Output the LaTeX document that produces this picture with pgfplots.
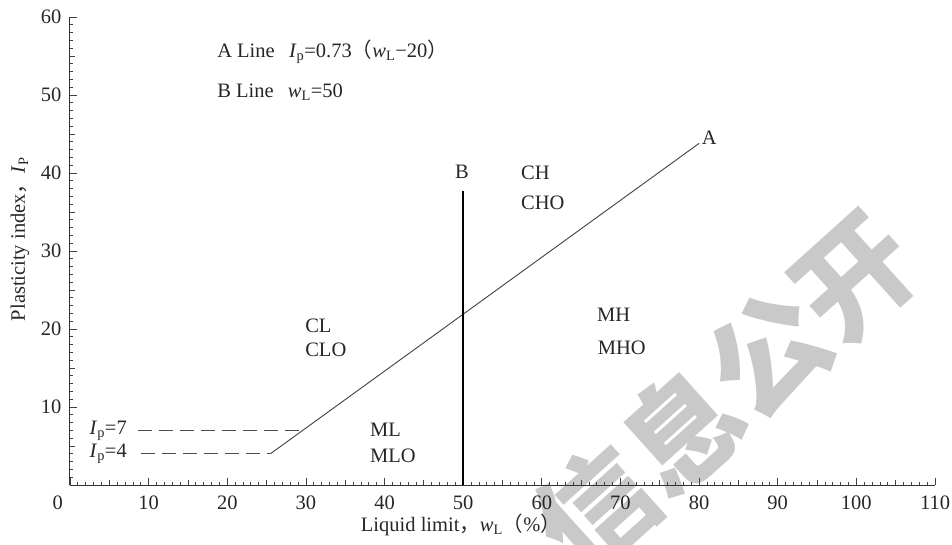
\documentclass[border=0pt]{standalone}
\usepackage{fontspec}
\setmainfont{Liberation Serif}
\newfontfamily\cjk{Noto Sans CJK SC}
\usepackage{pgfplots}
\pgfplotsset{compat=1.18}
\newcommand{\Ip}{\textit{I}\textsubscript{p}}
\newcommand{\wL}{\textit{w}\textsubscript{L}}
\begin{document}
\fontsize{20.5}{24}\selectfont
\begin{tikzpicture}
\clip (-70pt,-59pt) rectangle (882pt,485pt);
\node[rotate=42, text=black!21, font=\cjk\bfseries\fontsize{116}{116}\selectfont] at (655pt,93pt) {信息公开};
\begin{axis}[
  at={(0pt,0pt)}, anchor=south west,
  scale only axis, width=865pt, height=468pt,
  xmin=0, xmax=110, ymin=0, ymax=60,
  axis lines=left,
  axis line style={-, black!80, line width=1pt},
  tick align=inside,
  xtick={0,10,20,30,40,50,60,70,80,90,100,110},
  ytick={0,10,20,30,40,50,60},
  xticklabels={\llap{0\hspace{7pt}},10,20,30,40,50,60,70,80,90,100,110},
  yticklabels={,10,20,30,40,50,60},
  minor x tick num=9, minor y tick num=9,
  major tick length=7pt, minor tick length=3pt,
  tick style={black!75, line width=0.8pt},
  extra x ticks={5,15,25,35,45,55,65,75,85,95,105},
  extra y ticks={5,15,25,35,45,55},
  extra x tick labels={}, extra y tick labels={},
  extra x tick style={major tick length=5pt},
  extra y tick style={major tick length=5pt},
  xticklabel style={yshift=-3.5pt, text=black!85},
  yticklabel style={xshift=-1.5pt, text=black!85},
  clip=false,
  xlabel={Liquid limit{\cjk ，}\wL{\cjk （}\%{\cjk ）}},
  ylabel={Plasticity index{\cjk ，}\textit{I}\textsubscript{P}},
  xlabel style={at={(axis description cs:0.452,-0.0855)}, anchor=center, text=black!85},
  ylabel style={at={(axis description cs:-0.0578,0.525)}, anchor=center, text=black!85},
]
\addplot[black!75, line width=0.9pt] coordinates {(25.48,4) (80,43.8)};
\addplot[black, line width=2.4pt] coordinates {(50,0) (50,37.7)};
\addplot[black!70, line width=0.9pt, dash pattern=on 14pt off 7pt] coordinates {(8.6,7) (29.59,7)};
\addplot[black!70, line width=0.9pt, dash pattern=on 14pt off 7pt] coordinates {(9.0,4) (25.48,4)};
\begin{scope}[every node/.style={inner sep=0pt, text=black!85}]
\node[anchor=west] at (axis cs:18.7,55.5) {A Line\hspace{0.7em}\Ip=0.73{\cjk （}\wL−20{\cjk ）}};
\node[anchor=west] at (axis cs:18.7,50.4) {B Line\hspace{0.7em}\wL=50};
\node at (axis cs:49.85,40.1) {B};
\node at (axis cs:81.3,44.5) {A};
\node[anchor=west] at (axis cs:57.35,40.0) {CH};
\node[anchor=west] at (axis cs:57.35,36.15) {CHO};
\node[anchor=west] at (axis cs:67.0,21.8) {MH};
\node[anchor=west] at (axis cs:67.1,17.6) {MHO};
\node[anchor=west] at (axis cs:29.9,20.4) {CL};
\node[anchor=west] at (axis cs:29.9,17.3) {CLO};
\node[anchor=west] at (axis cs:38.15,7.05) {ML};
\node[anchor=west] at (axis cs:38.15,3.7) {MLO};
\node[anchor=east] at (axis cs:7.25,7.0) {\Ip=7};
\node[anchor=east] at (axis cs:7.25,4.0) {\Ip=4};
\end{scope}
\end{axis}
\end{tikzpicture}
\end{document}
